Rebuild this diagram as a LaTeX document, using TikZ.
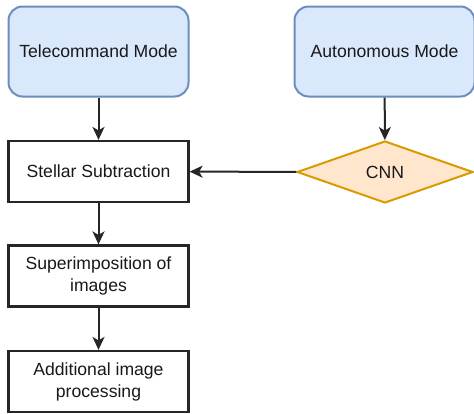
\documentclass[tikz,border=0pt]{standalone}
\usepackage{fontspec}
\setmainfont{Liberation Sans}
\usetikzlibrary{shapes.geometric,arrows.meta}
\definecolor{bluefill}{HTML}{DAE8FC}
\definecolor{blueline}{HTML}{6C8EBF}
\definecolor{orangefill}{HTML}{FFE6CC}
\definecolor{orangeline}{HTML}{D79B00}
\definecolor{boxline}{HTML}{262626}
\begin{document}
\begin{tikzpicture}[x=1pt,y=-1pt,
  every node/.style={font=\fontsize{17.6}{22}\selectfont, text=black!90, align=center, inner sep=0pt},
  modebox/.style={draw=blueline, fill=bluefill, line width=2pt, rounded corners=14pt, minimum width=180pt, minimum height=90pt},
  procbox/.style={draw=boxline, fill=white, line width=2.2pt, minimum width=180pt, minimum height=61pt},
  cnnshape/.style={draw=orangeline, fill=orangefill, line width=2pt, diamond, aspect=2.9, minimum width=176pt, minimum height=62pt, inner sep=0pt},
  flow/.style={draw=boxline, line width=2pt, -{Stealth[length=13pt,width=12pt,inset=3.5pt]}}
]
\useasboundingbox (0,0) rectangle (474,413);
\node[modebox] (tele) at (98.5,51.5) {Telecommand Mode};
\node[modebox] (auto) at (384.5,51.5) {Autonomous Mode};
\node[procbox] (stellar) at (98.5,171.5) {Stellar Subtraction};
\node[cnnshape] (cnn) at (385,172) {CNN};
\node[procbox] (super) at (98.5,276) {Superimposition of\\images};
\node[procbox] (addit) at (98.5,381.5) {Additional image\\processing};
\draw[flow] (tele) -- (stellar);
\draw[flow] (auto) -- (cnn);
\draw[flow] (cnn) -- (stellar);
\draw[flow] (stellar) -- (super);
\draw[flow] (super) -- (addit);
\end{tikzpicture}
\end{document}
